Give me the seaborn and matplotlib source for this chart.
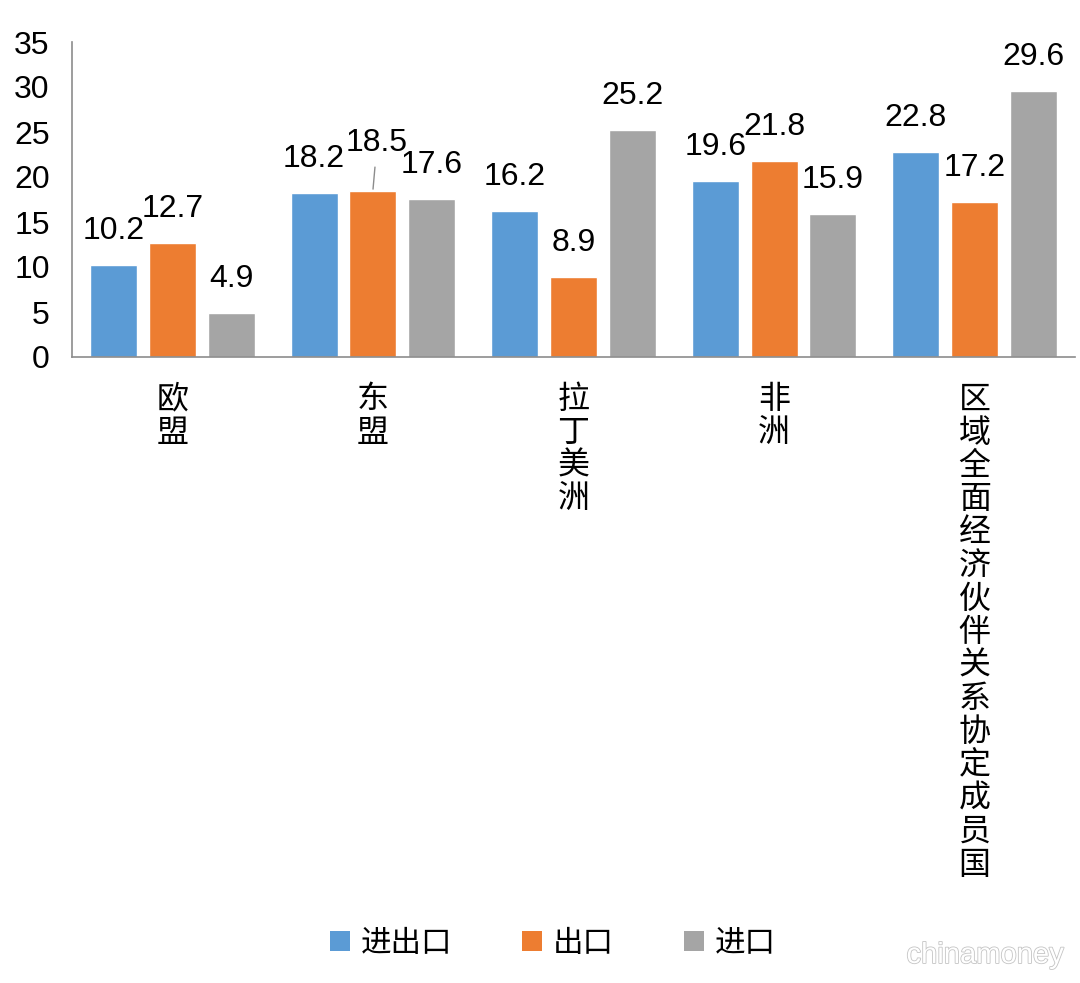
import matplotlib
matplotlib.use("Agg")
import matplotlib.pyplot as plt
import matplotlib.patheffects as pe
import seaborn as sns
import pandas as pd
from matplotlib.patches import Patch

categories = ["欧盟", "东盟", "拉丁美洲", "非洲", "区域全面经济伙伴关系协定成员国"]
series_names = ["进出口", "出口", "进口"]
total_vals = [10.2, 18.2, 16.2, 19.6, 22.8]
export_vals = [12.7, 18.5, 8.9, 21.8, 17.2]
import_vals = [4.9, 17.6, 25.2, 15.9, 29.6]
y_ticks = [0, 5, 10, 15, 20, 25, 30, 35]

colors = ["#5B9BD5", "#ED7D31", "#A5A5A5"]

rows = []
for name, vals in zip(series_names, [total_vals, export_vals, import_vals]):
    for c, v in zip(categories, vals):
        rows.append({"cat": c, "series": name, "value": v})
df = pd.DataFrame(rows)

sns.set_style("white")
plt.rcParams["font.family"] = ["Liberation Sans", "Noto Sans CJK SC", "DejaVu Sans"]
plt.rcParams["text.color"] = "black"
plt.rcParams["xtick.labelcolor"] = "black"
plt.rcParams["ytick.labelcolor"] = "black"

fig = plt.figure(figsize=(10.8, 9.83), dpi=100)
ax = fig.add_axes([72 / 1080, 1 - 357 / 983, (1075 - 72) / 1080, (357 - 42) / 983])

sns.barplot(data=df, x="cat", y="value", hue="series", order=categories,
            hue_order=series_names, palette=colors, width=0.88, gap=0.2,
            saturation=1, ax=ax, legend=False)

ax.set_xlim(-0.5, len(categories) - 0.5)
ax.set_ylim(0, 35)
ax.set_yticks(y_ticks)
ax.set_yticklabels([str(t) for t in y_ticks], fontsize=23, family=["Liberation Sans"])
ax.set_xlabel("")
ax.set_ylabel("")

for s in ["top", "right"]:
    ax.spines[s].set_visible(False)
for s in ["left", "bottom"]:
    ax.spines[s].set_color("#8c8c8c")
    ax.spines[s].set_linewidth(1.2)

ax.tick_params(axis="y", direction="in", length=9, width=1.2, color="#8c8c8c", pad=16)
ax.set_xticks(range(len(categories)))
ax.set_xticklabels(["\n".join(c) for c in categories], fontsize=23,
                   family=["Noto Sans CJK SC"], linespacing=1.05, va="top")
ax.tick_params(axis="x", length=0, pad=19)
ax.set_xticks([i + 0.5 for i in range(len(categories))], minor=True)
ax.tick_params(axis="x", which="minor", direction="in", length=9, width=1.2, color="#8c8c8c")

# data labels
special = {(1, 1): 34}  # label pulled away with leader line
for si, (container, vals) in enumerate(zip(ax.containers, [total_vals, export_vals, import_vals])):
    for ci, (bar, v) in enumerate(zip(container, vals)):
        xc = bar.get_x() + bar.get_width() / 2
        top = bar.get_height()
        if (si, ci) in special:
            ax.annotate(f"{v}", xy=(xc, top), xytext=(3, special[(si, ci)]),
                        textcoords="offset points", ha="center", va="center",
                        fontsize=23, family=["Liberation Sans"], color="black",
                        arrowprops=dict(arrowstyle="-", color="#8c8c8c", lw=1,
                                        shrinkA=4, shrinkB=1))
        else:
            ax.annotate(f"{v}", xy=(xc, top), xytext=(0, 24.5), textcoords="offset points",
                        ha="center", va="center", fontsize=23, family=["Liberation Sans"],
                        color="black")

handles = [Patch(facecolor=c, edgecolor="none") for c in colors]
fig.legend(handles, series_names, loc="center", bbox_to_anchor=(553 / 1080, 1 - 943 / 983),
           ncol=3, frameon=False, prop={"family": ["Noto Sans CJK SC"], "size": 22},
           handlelength=0.65, handleheight=0.65, handletextpad=0.35, columnspacing=2.3)

fig.text(985 / 1080, 1 - 955 / 983, "chinamoney", ha="center", va="center",
         fontsize=21, color="white", family=["Liberation Sans"],
         path_effects=[pe.withStroke(linewidth=1.2, foreground="#c4c4c4")])

fig.savefig("out.png", dpi=100, facecolor="white")
